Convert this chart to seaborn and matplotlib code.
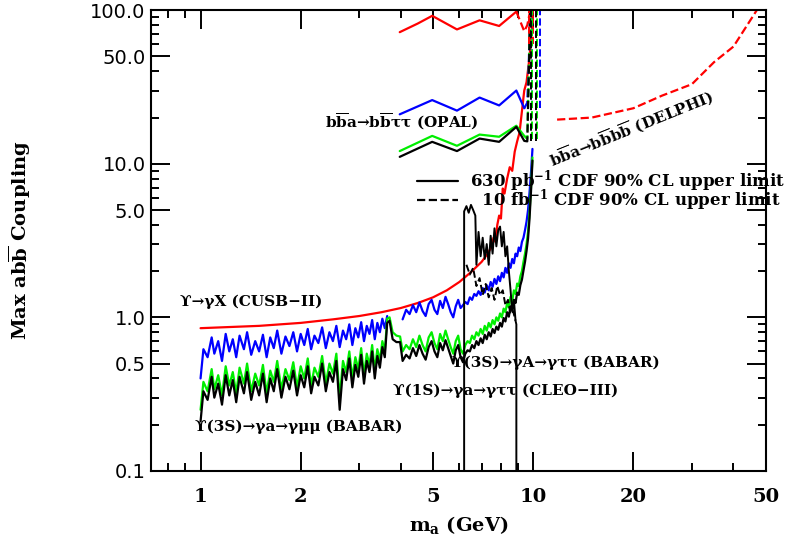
import matplotlib
matplotlib.use("Agg")
import matplotlib.pyplot as plt
import matplotlib.ticker as mticker
from matplotlib.lines import Line2D
import seaborn as sns

# ---- values ----
# Upsilon(3S) -> gamma a -> gamma mu mu (BABAR) region
m_mumu = [1.00, 1.02, 1.05, 1.08, 1.10, 1.13, 1.16, 1.19, 1.22, 1.25, 1.28, 1.31, 1.35, 1.38,
          1.42, 1.46, 1.50, 1.54, 1.58, 1.62, 1.66, 1.70, 1.75, 1.80, 1.85, 1.90, 1.95, 2.00,
          2.05, 2.10, 2.15, 2.20, 2.26, 2.32, 2.38, 2.44, 2.50, 2.56, 2.62, 2.68, 2.74, 2.80,
          2.86, 2.92, 2.98, 3.04, 3.10, 3.16, 3.22, 3.28, 3.34, 3.40, 3.46, 3.52, 3.58, 3.64]
blue_mumu = [0.40, 0.62, 0.55, 0.74, 0.58, 0.70, 0.52, 0.78, 0.60, 0.72, 0.55, 0.76, 0.62, 0.80,
             0.57, 0.70, 0.60, 0.77, 0.55, 0.74, 0.63, 0.82, 0.58, 0.75, 0.65, 0.80, 0.60, 0.78,
             0.66, 0.84, 0.62, 0.76, 0.68, 0.86, 0.63, 0.80, 0.70, 0.88, 0.64, 0.82, 0.72, 0.90,
             0.66, 0.85, 0.74, 0.93, 0.70, 0.88, 0.78, 0.96, 0.72, 0.92, 0.80, 0.98, 0.85, 1.02]
green_mumu = [0.25, 0.38, 0.33, 0.46, 0.34, 0.42, 0.31, 0.48, 0.36, 0.44, 0.32, 0.47, 0.37, 0.50,
              0.33, 0.43, 0.36, 0.49, 0.32, 0.45, 0.38, 0.52, 0.34, 0.46, 0.39, 0.51, 0.35, 0.48,
              0.40, 0.54, 0.36, 0.47, 0.41, 0.56, 0.37, 0.50, 0.43, 0.58, 0.30, 0.52, 0.44, 0.60,
              0.40, 0.55, 0.46, 0.63, 0.42, 0.58, 0.49, 0.66, 0.45, 0.62, 0.52, 0.70, 0.60, 0.98]
black_mumu = [0.21, 0.33, 0.29, 0.41, 0.30, 0.37, 0.27, 0.42, 0.31, 0.39, 0.28, 0.41, 0.32, 0.44,
              0.29, 0.38, 0.31, 0.43, 0.28, 0.40, 0.33, 0.46, 0.30, 0.41, 0.34, 0.45, 0.31, 0.42,
              0.35, 0.48, 0.32, 0.41, 0.36, 0.50, 0.33, 0.44, 0.38, 0.52, 0.25, 0.46, 0.39, 0.54,
              0.35, 0.49, 0.41, 0.57, 0.37, 0.52, 0.44, 0.60, 0.40, 0.56, 0.47, 0.64, 0.55, 0.92]

m_bridge = [3.70, 3.78, 3.88, 3.98]
green_bridge = [1.00, 0.80, 0.76, 0.75]
black_bridge = [0.95, 0.72, 0.69, 0.69]

# Upsilon(3S) -> gamma A -> gamma tau tau (BABAR) region
m_tautau = [4.05, 4.15, 4.25, 4.35, 4.45, 4.55, 4.65, 4.75, 4.85, 4.95, 5.05, 5.15, 5.25, 5.35,
            5.45, 5.55, 5.65, 5.75, 5.85, 5.95, 6.05, 6.15, 6.25, 6.35, 6.45, 6.55, 6.65, 6.75,
            6.85, 6.95, 7.05, 7.15, 7.25, 7.35, 7.45, 7.55, 7.65, 7.75, 7.85, 7.95, 8.05, 8.15,
            8.25, 8.35, 8.45, 8.55, 8.65, 8.75, 8.85, 8.95, 9.05, 9.15, 9.25, 9.35, 9.45, 9.55,
            9.65, 9.75, 9.85, 9.95]
blue_tautau = [0.97, 1.12, 1.05, 1.20, 1.08, 1.25, 1.10, 1.02, 1.22, 1.30, 1.12, 1.05, 1.28, 1.15,
               1.36, 1.22, 1.08, 1.00, 1.18, 1.30, 1.15, 1.20, 1.26, 1.22, 1.35, 1.30, 1.42, 1.38,
               1.48, 1.40, 1.55, 1.45, 1.62, 1.50, 1.70, 1.58, 1.78, 1.65, 1.85, 1.72, 1.95, 1.82,
               2.10, 1.95, 2.25, 2.10, 2.40, 2.25, 2.60, 2.50, 2.85, 2.70, 3.10, 3.30, 3.70, 4.20,
               5.00, 6.50, 8.80, 12.5]
green_tautau = [0.60, 0.66, 0.62, 0.72, 0.64, 0.76, 0.66, 0.60, 0.74, 0.80, 0.68, 0.62, 0.78, 0.70,
                0.82, 0.72, 0.64, 0.58, 0.70, 0.76, 0.62, 0.58, 0.66, 0.70, 0.68, 0.76, 0.72, 0.80,
                0.76, 0.84, 0.78, 0.88, 0.82, 0.92, 0.86, 0.96, 0.90, 1.00, 0.95, 1.06, 1.00, 1.14,
                1.08, 1.24, 1.16, 1.36, 1.28, 1.50, 1.42, 1.66, 1.60, 1.85, 2.00, 2.30, 2.60, 3.00,
                3.60, 4.80, 7.00, 11.0]
black_tautau = [0.52, 0.57, 0.54, 0.63, 0.56, 0.66, 0.58, 0.53, 0.64, 0.70, 0.60, 0.55, 0.68, 0.61,
                0.71, 0.63, 0.56, 0.50, 0.61, 0.66, 0.55, 0.51, 0.58, 0.61, 0.60, 0.66, 0.63, 0.70,
                0.66, 0.73, 0.68, 0.77, 0.72, 0.80, 0.75, 0.84, 0.79, 0.87, 0.83, 0.92, 0.87, 0.99,
                0.94, 1.08, 1.01, 1.18, 1.11, 1.30, 1.24, 1.45, 1.40, 1.62, 1.76, 2.02, 2.30, 2.70,
                3.25, 4.40, 6.60, 10.5]

# Upsilon -> gamma X (CUSB-II)
m_cusb = [1.0, 1.5, 2.0, 2.5, 3.0, 3.5, 4.0, 4.5, 5.0, 5.5, 6.0, 6.5, 7.0, 7.3, 7.5, 7.6, 7.7,
          7.8, 7.9, 8.0, 8.1, 8.2, 8.35, 8.5, 8.65, 8.8, 8.95, 9.1, 9.25, 9.4, 9.55, 9.7, 9.8,
          9.9, 9.97]
red_cusb = [0.85, 0.88, 0.92, 0.97, 1.02, 1.08, 1.15, 1.24, 1.35, 1.50, 1.70, 1.97, 2.30, 2.60,
            2.90, 3.30, 3.10, 4.00, 4.60, 4.40, 6.90, 6.40, 8.00, 9.50, 9.00, 12.0, 14.0, 16.0,
            22.0, 30.0, 34.0, 45.0, 56.0, 75.0, 100.0]

# b bbar a -> b bbar tau tau (OPAL)
m_opal = [3.97, 4.97, 5.9, 6.9, 7.9, 8.9, 9.4]
blue_opal = [21.0, 26.0, 22.2, 27.0, 24.0, 30.0, 23.0]
green_opal = [12.1, 15.2, 13.1, 15.5, 15.0, 17.7, 15.2]
black_opal = [11.1, 13.9, 12.1, 14.6, 13.9, 17.4, 14.1]
m_opal_red = [3.97, 4.5, 4.97, 5.9, 6.9, 7.9, 8.9]
red_opal = [72.0, 82.0, 92.0, 75.0, 86.0, 79.0, 98.0]
m_red_tail = [8.9, 9.4, 9.6, 9.8]
red_tail = [98.0, 73.0, 80.0, 100.0]
m_tail = [9.4, 9.6, 9.7, 9.8]
blue_tail = [23.0, 25.0, 45.0, 100.0]
green_tail = [15.2, 14.5, 40.0, 100.0]
black_tail = [14.1, 14.0, 38.0, 100.0]

# dashed near-vertical band just below the Upsilon masses
band_m = {"red": [9.72, 10.0], "blue": [9.9, 10.45], "#00ee00": [9.95, 10.3], "black": [9.85, 10.2]}
band_lo = {"red": 60.0, "blue": 23.0, "#00ee00": 14.5, "black": 14.0}

# b bbar a -> b bbar b bbar (DELPHI)
m_delphi = [11.8, 15.0, 20.0, 24.4, 30.0, 35.0, 40.0, 47.0]
red_delphi = [19.4, 20.0, 23.0, 27.8, 33.0, 46.0, 58.0, 100.0]

# CDF projections
m_cdf630 = [6.2, 6.2, 6.3, 6.4, 6.5, 6.6, 6.7, 6.75, 6.85, 6.95, 7.05, 7.15, 7.25, 7.35, 7.45,
            7.55, 7.65, 7.75, 7.85, 7.95, 8.05, 8.15, 8.25, 8.35, 8.45, 8.55, 8.65, 8.75, 8.85,
            8.9, 8.9]
cdf630 = [0.1, 4.9, 5.3, 4.8, 5.4, 5.0, 4.6, 2.2, 3.6, 2.5, 3.3, 2.4, 3.0, 2.2, 3.4, 2.6, 3.8,
          2.9, 3.7, 3.9, 2.9, 3.6, 2.5, 2.9, 2.0, 1.5, 1.1, 1.3, 0.95, 0.9, 0.1]
m_cdf10 = [6.3, 6.45, 6.6, 6.75, 6.9, 7.05, 7.2, 7.35, 7.5, 7.65, 7.8, 7.95, 8.1, 8.25, 8.4,
           8.55, 8.7, 8.85]
cdf10 = [2.2, 1.9, 2.1, 1.6, 1.8, 1.4, 1.65, 1.35, 1.55, 1.3, 1.6, 1.4, 1.5, 1.2, 1.3, 1.05,
         1.1, 0.95]

x_major = [1, 2, 5, 10, 20, 50]
x_minor = [0.8, 0.9, 3, 4, 6, 7, 8, 9, 30, 40]
y_major = [0.1, 0.5, 1.0, 5.0, 10.0, 50.0, 100.0]
y_minor = [0.2, 0.3, 0.4, 0.6, 0.7, 0.8, 0.9, 2, 3, 4, 6, 7, 8, 9, 20, 30, 40, 60, 70, 80, 90]

GREEN = "#00ee00"

sns.set_style("ticks")
plt.rcParams["font.family"] = ["DejaVu Serif", "DejaVu Sans"]
plt.rcParams["font.weight"] = "bold"
plt.rcParams["mathtext.fontset"] = "dejavuserif"
plt.rcParams["mathtext.default"] = "bf"
for key in ["text.color", "axes.labelcolor", "xtick.color", "ytick.color", "axes.edgecolor"]:
    plt.rcParams[key] = "black"

fig, ax = plt.subplots(figsize=(7.91, 5.40), dpi=100)
fig.subplots_adjust(left=0.191, right=0.968, top=0.981, bottom=0.128)
ax.set_xscale("log")
ax.set_yscale("log")


def curve(x, y, color, ls="-", lw=1.6):
    sns.lineplot(x=x, y=y, sort=False, estimator=None, color=color, linewidth=lw,
                 linestyle=ls, ax=ax, legend=False)


curve(m_cusb, red_cusb, "red")
curve(m_mumu, blue_mumu, "blue")
curve(m_tautau, blue_tautau, "blue")
curve(m_mumu + m_bridge + m_tautau, green_mumu + green_bridge + green_tautau, GREEN)
curve(m_mumu + m_bridge + m_tautau, black_mumu + black_bridge + black_tautau, "black")

curve(m_opal_red, red_opal, "red")
curve(m_red_tail, red_tail, "red", ls="--")
curve(m_opal, blue_opal, "blue")
curve(m_tail, blue_tail, "blue", ls="--")
curve(m_opal, green_opal, GREEN)
curve(m_tail, green_tail, GREEN, ls="--")
curve(m_opal, black_opal, "black")
curve(m_tail, black_tail, "black", ls="--")
for col, xs in band_m.items():
    ax.vlines(xs, band_lo[col], 100.0, colors=col, linestyles="--", linewidth=1.4)

curve(m_delphi, red_delphi, "red", ls="--")
curve(m_cdf630, cdf630, "black", lw=1.4)
curve(m_cdf10, cdf10, "black", ls="--", lw=1.4)

ax.set_xlim(0.71, 50)
ax.set_ylim(0.1, 100)
ax.xaxis.set_major_locator(mticker.FixedLocator(x_major))
ax.xaxis.set_minor_locator(mticker.FixedLocator(x_minor))
ax.xaxis.set_major_formatter(mticker.FixedFormatter([str(v) for v in x_major]))
ax.xaxis.set_minor_formatter(mticker.NullFormatter())
ax.yaxis.set_major_locator(mticker.FixedLocator(y_major))
ax.yaxis.set_minor_locator(mticker.FixedLocator(y_minor))
ax.yaxis.set_major_formatter(mticker.FixedFormatter([f"{v:.1f}" for v in y_major]))
ax.yaxis.set_minor_formatter(mticker.NullFormatter())

ax.tick_params(which="both", direction="in", top=True, right=True, width=1.4, color="black")
ax.tick_params(which="major", length=14)
ax.tick_params(which="minor", length=5.5)
ax.tick_params(axis="x", which="major", pad=12, labelsize=14, labelcolor="black")
ax.tick_params(axis="y", which="major", pad=4, labelsize=14, labelcolor="black")
for lab in ax.get_yticklabels():
    lab.set_family("DejaVu Sans")
    lab.set_weight("normal")
for sp in ax.spines.values():
    sp.set_linewidth(1.5)
    sp.set_color("black")

ax.set_xlabel(r"$\mathbf{m_a}$ (GeV)", fontsize=14, fontweight="bold", labelpad=6)
ax.set_ylabel(r"Max ab$\overline{\mathbf{b}}$ Coupling", fontsize=14, fontweight="bold", labelpad=41)

ann = dict(fontsize=11, fontweight="bold", color="black")
ax.text(4.02, 18.8, r"b$\overline{\mathbf{b}}$a→b$\overline{\mathbf{b}}$ττ (OPAL)",
        ha="center", va="center", **ann)
ax.text(19.7, 16.9, r"b$\overline{\mathbf{b}}$a→b$\overline{\mathbf{b}}$b$\overline{\mathbf{b}}$ (DELPHI)",
        ha="center", va="center", rotation=22, **ann)
ax.text(0.867, 1.27, "ϒ→γX (CUSB−II)", ha="left", va="center", **ann)
ax.text(0.96, 0.194, "ϒ(3S)→γa→γμμ (BABAR)", ha="left", va="center", **ann)
ax.text(5.72, 0.508, "ϒ(3S)→γA→γττ (BABAR)", ha="left", va="center", **ann)
ax.text(3.78, 0.333, "ϒ(1S)→γa→γττ (CLEO−III)", ha="left", va="center", **ann)

handles = [Line2D([], [], color="black", lw=1.6, ls="-"),
           Line2D([], [], color="black", lw=1.6, ls="--")]
labels = [r"630 pb$^{-1}$ CDF 90% CL upper limit", r"  10 fb$^{-1}$ CDF 90% CL upper limit"]
ax.legend(handles, labels, loc="upper left", bbox_to_anchor=(0.432, 0.657), frameon=False,
          fontsize=12, handlelength=2.5, handletextpad=0.7, labelspacing=-0.4,
          borderpad=0, borderaxespad=0)

fig.savefig("out.png", dpi=100)
